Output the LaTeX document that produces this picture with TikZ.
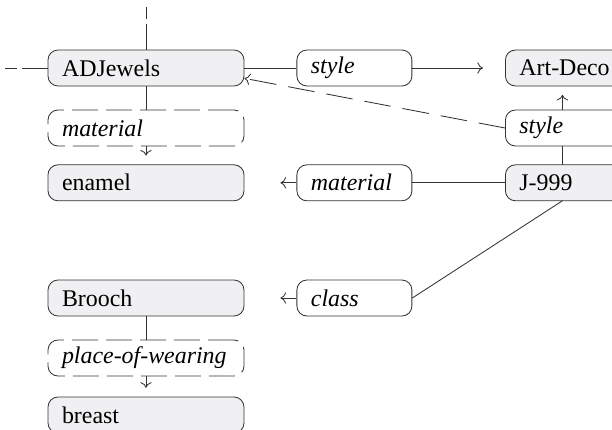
\documentclass[tikz,border=0pt]{standalone}
\usepackage{fontspec}
\setmainfont{Liberation Serif}
\usetikzlibrary{arrows.meta}
\definecolor{Ncolor}{RGB}{240, 240, 242}
\definecolor{Lcolor}{RGB}{51, 51, 51}
\tikzset{
    every node/.style={font=\fontsize{17}{20}\selectfont},
    thing/.style={draw=Lcolor, rounded corners=0.25cm, fill=Ncolor, line width=0.6pt,
        inner xsep=0.35cm, inner ysep=0pt, minimum height=0.9cm, align=left},
    rel/.style={thing, fill=white, font=\fontsize{17}{20}\selectfont\itshape},
    unsure/.style={rel, dash pattern=on 0.65cm off 0.2cm},
    wide/.style={text width=4.2cm},
    narrow/.style={text width=2.175cm},
    edge/.style={text width=2.5cm, anchor=west},
    link/.style={draw=Lcolor, line width=0.6pt},
    arr/.style={link, -{To[length=4pt, width=8pt]}},
    cutline/.style={link, dash pattern=on 0.65cm off 0.125cm on 0.3cm off 0.5cm},
    longdash/.style={link, dash pattern=on 0.67cm off 0.3cm}
}
\begin{document}
\begin{tikzpicture}
            \clip (0,0) rectangle (15.3,-10.725);
            \def\colA{3.65}
            \def\colB{8.86}
            \def\colC{12.625}
            % left column
            \node[thing, wide] (ADJewels) at (\colA, -1.7) {ADJewels};
            \node[unsure, wide] (mat1) at (\colA, -3.2) {material};
            \node[thing, wide] (enamel) at (\colA, -4.57) {enamel};
            \node[thing, wide] (Brooch) at (\colA, -7.45) {Brooch};
            \node[unsure, wide] (place) at (\colA, -8.95) {place-of-wearing};
            \node[thing, wide] (breast) at (\colA, -10.375) {breast};
            % middle column
            \node[rel, narrow] (style1) at (\colB, -1.7) {style};
            \node[rel, narrow] (mat2) at (\colB, -4.57) {material};
            \node[rel, narrow] (class) at (\colB, -7.45) {class};
            % right column, cut off by the clip
            \node[thing, edge] (ArtDeco) at (\colC, -1.7) {Art-Deco};
            \node[rel, edge] (style2) at (\colC, -3.2) {style};
            \node[thing, edge] (J999) at (\colC, -4.57) {J-999};
            \coordinate (topcut) at (\colA, 0);
            \coordinate (leftcut) at (0, -1.7);
            \coordinate (jbot) at (14.06, -5.02);
            \coordinate (jtop) at (14.06, -4.12);
            \coordinate (sbot) at (14.06, -3.65);
            \coordinate (stop) at (14.06, -2.75);
            \coordinate (abot) at (14.06, -2.15);
            % connectors
            \draw[cutline] (ADJewels.north) -- (topcut);
            \draw[cutline] (ADJewels.west) -- (leftcut);
            \draw[link] (ADJewels) -- (mat1);
            \draw[arr, shorten >=0.22cm] (mat1) -- (enamel);
            \draw[link] (ADJewels) -- (style1);
            \draw[arr, shorten >=0.55cm] (style1) -- (ArtDeco);
            \draw[longdash, -{To[length=4pt, width=8pt]}] (style2.west) -- (ADJewels.-6);
            \draw[link] (jtop) -- (sbot);
            \draw[arr, shorten >=0.22cm] (stop) -- (abot);
            \draw[link] (J999) -- (mat2);
            \draw[arr, shorten >=0.9cm] (mat2) -- (enamel);
            \draw[link] (jbot) -- (class.east);
            \draw[arr, shorten >=0.9cm] (class) -- (Brooch);
            \draw[link] (Brooch) -- (place);
            \draw[arr, shorten >=0.22cm] (place) -- (breast);
        \end{tikzpicture}
\end{document}
